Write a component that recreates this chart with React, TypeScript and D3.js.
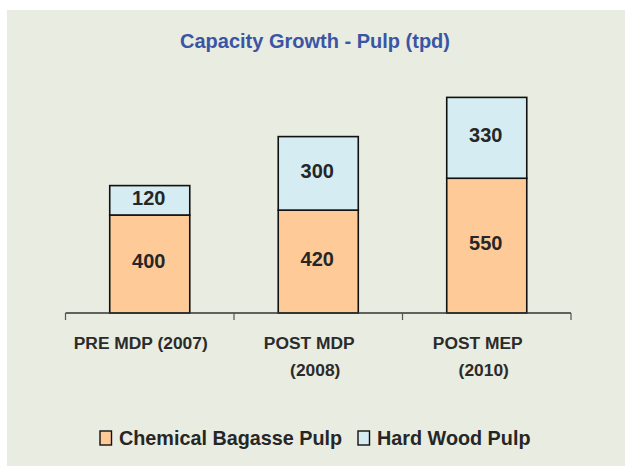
import React from "react";
import * as d3 from "d3";

const categories: string[][] = [["PRE MDP (2007)"], ["POST MDP", "(2008)"], ["POST MEP", "(2010)"]];
const chemicalBagasse: number[] = [400, 420, 550];
const hardWood: number[] = [120, 300, 330];
const seriesNames: string[] = ["Chemical Bagasse Pulp", "Hard Wood Pulp"];
const title = "Capacity Growth - Pulp (tpd)";

const W = 625;
const H = 467;
const colors = ["#fecb98", "#d5ecf2"];

export default function App() {
  const x = d3.scaleBand<number>().domain([0, 1, 2]).range([65.5, 571]).paddingInner(0).paddingOuter(0);
  const y = d3.scaleLinear().domain([0, 1000]).range([313, 68]);
  const barW = x.bandwidth() * 0.475;
  const stackData = categories.map((_, i) => ({ i, a: chemicalBagasse[i], b: hardWood[i] }));
  const stack = d3.stack<any>().keys(["a", "b"])(stackData);
  const font = "'Liberation Sans', Arial, sans-serif";
  const ticks = [0, 1, 2].map((i) => x(i) as number).concat([x.range()[1]]);

  return (
    <svg width={W} height={H} style={{ position: "absolute", left: 0, top: 0 }} fontFamily={font}>
      <rect x={0} y={0} width={W} height={H} fill="#ffffff" />
      <rect x={7} y={10} width={W - 7} height={456} fill="#e9ece0" />
      <text x={315} y={48} textAnchor="middle" fontSize={20} fontWeight="bold" fill="#3b55a5">
        {title}
      </text>
      {stack.map((s, si) =>
        s.map((d, i) => {
          const cx = (x(i) as number) + x.bandwidth() / 2;
          const y0 = y(d[0]);
          const y1 = y(d[1]);
          return (
            <g key={`${si}-${i}`}>
              <rect x={cx - barW / 2} y={y1} width={barW} height={y0 - y1} fill={colors[si]} stroke="#111" strokeWidth={1.6} />
              <text x={cx - 1} y={(y0 + y1) / 2 - 3} dy="0.36em" textAnchor="middle" fontSize={20} fontWeight="bold" fill="#262626">
                {d[1] - d[0]}
              </text>
            </g>
          );
        })
      )}
      <line x1={x.range()[0]} x2={x.range()[1]} y1={313} y2={313} stroke="#333" strokeWidth={1.4} />
      {ticks.map((t, i) => (
        <line key={i} x1={t} x2={t} y1={313} y2={320} stroke="#555" strokeWidth={1.2} />
      ))}
      {categories.map((lines, i) => {
        const cx = (x(i) as number) + x.bandwidth() / 2;
        return lines.map((ln, li) => (
          <text key={`${i}-${li}`} x={cx + (li === 0 ? -9 : -3)} y={348.5 + li * 27} textAnchor="middle" fontSize={17.4} fontWeight="bold" fill="#2b2b2b">
            {ln}
          </text>
        ));
      })}
      {seriesNames.map((n, i) => {
        const lx = i === 0 ? 100 : 358;
        return (
          <g key={n}>
            <rect x={lx} y={431} width={11.5} height={14} fill={colors[i]} stroke="#111" strokeWidth={1.4} />
            <text x={lx + 19} y={445} fontSize={19.8} fontWeight="bold" fill="#262626">
              {n}
            </text>
          </g>
        );
      })}
    </svg>
  );
}
